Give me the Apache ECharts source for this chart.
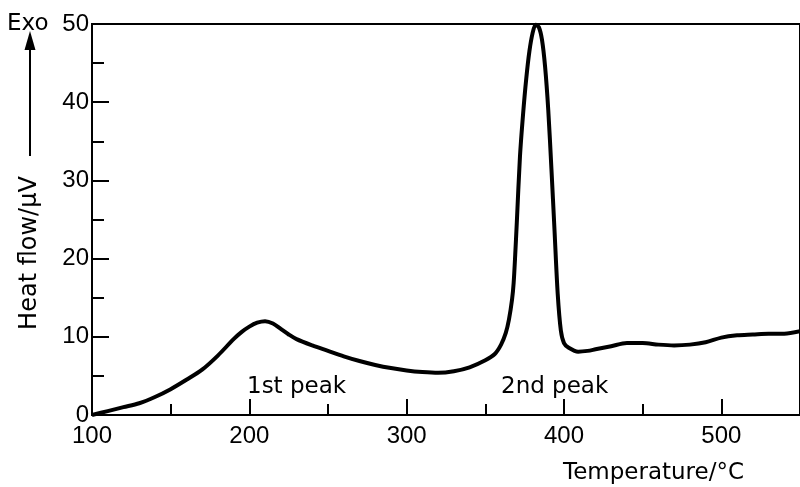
<!DOCTYPE html>
<html>
<head>
<meta charset="utf-8">
<script src="https://cdn.jsdelivr.net/npm/echarts@6/dist/echarts.min.js"></script>
<style>
  html, body { margin: 0; padding: 0; background: #fff; }
  #chart { width: 800px; height: 487px; }
</style>
</head>
<body>
<div id="chart"></div>
<script>
// DSC trace: temperature (°C) and heat flow (µV)
const temps = [100, 110, 120, 130, 140, 150, 160, 170, 180, 190, 195, 200, 205, 210, 215, 220, 225, 230, 240, 250,
	260, 270, 280, 290, 300, 310, 320, 330, 340, 350, 356, 360, 363, 365, 367, 368, 369, 370, 372, 374, 376,
	378, 380, 382, 384, 386, 388, 390, 392, 394, 396, 398, 400, 403, 409, 415, 420, 430, 440, 450, 460,
	470, 480, 490, 500, 510, 520, 530, 540, 550];
const heatFlow = [0, 0.5, 1.0, 1.5, 2.3, 3.3, 4.5, 5.8, 7.6, 9.7, 10.6, 11.3, 11.8, 12.0, 11.7, 11.0, 10.3, 9.7, 8.9, 8.2,
	7.5, 6.9, 6.4, 6.0, 5.7, 5.5, 5.4, 5.6, 6.1, 7.0, 7.8, 9.0, 10.5, 12.2, 14.8, 16.9, 20.5, 24.6, 33, 38.5, 43,
	46.5, 48.8, 49.9, 49.6, 48, 44.5, 39, 31.5, 23.5, 15.5, 10.8, 9.2, 8.6, 8.1, 8.2, 8.4, 8.8, 9.2, 9.2, 9.0,
	8.9, 9.0, 9.3, 9.9, 10.2, 10.3, 10.4, 10.4, 10.7];
const xTicks = [100, 200, 300, 400, 500];
const yTicks = [0, 10, 20, 30, 40, 50];
const peakLabels = ['1st peak', '2nd peak'];

const numFont = 'Liberation Sans';
const font = 'DejaVu Sans';
const seriesData = temps.map((t, i) => [t, heatFlow[i]]);

const chart = echarts.init(document.getElementById('chart'), null, { renderer: 'canvas' });

chart.setOption({
	backgroundColor: '#fff',
	animation: false,
	grid: {
		left: 92, right: -2, top: 24, bottom: 72,
		show: true, borderColor: '#000', borderWidth: 2, backgroundColor: 'transparent'
	},
	xAxis: {
		type: 'value',
		min: xTicks[0], max: 550, interval: 100,
		axisLine: { lineStyle: { color: '#000', width: 2 } },
		axisTick: { inside: true, length: 16, lineStyle: { color: '#000', width: 2 } },
		minorTick: { show: true, splitNumber: 2, length: 11, lineStyle: { color: '#000', width: 2 } },
		splitLine: { show: false },
		axisLabel: {
			color: '#000', fontFamily: numFont, fontSize: 24, margin: 9, showMaxLabel: false
		}
	},
	yAxis: {
		type: 'value',
		min: yTicks[0], max: yTicks[yTicks.length - 1], interval: 10,
		axisLine: { lineStyle: { color: '#000', width: 2 } },
		axisTick: { inside: true, length: 17, lineStyle: { color: '#000', width: 2 } },
		minorTick: { show: true, splitNumber: 2, length: 12, lineStyle: { color: '#000', width: 2 } },
		splitLine: { show: false },
		axisLabel: { color: '#000', fontFamily: numFont, fontSize: 24, margin: 3 }
	},
	series: [{
		type: 'line',
		data: seriesData,
		smooth: 0.3,
		showSymbol: false,
		lineStyle: { color: '#000', width: 4 },
		clip: true
	}],
	graphic: [
		// Exo label and arrow
		{ type: 'text', left: 7, top: 13, style: { text: 'Exo', font: '23px "' + font + '"', fill: '#000' } },
		{ type: 'line', shape: { x1: 30, y1: 46, x2: 30, y2: 156 }, style: { stroke: '#000', lineWidth: 2 } },
		{ type: 'polygon', shape: { points: [[30, 31], [24.5, 50], [35.5, 50]] }, style: { fill: '#000' } },
		{
			type: 'text', x: 30, y: 253, rotation: Math.PI / 2,
			style: { text: 'Heat flow/μV', font: '24px "' + font + '"', fill: '#000', align: 'center', verticalAlign: 'middle' }
		},
		// peak labels
		{ type: 'text', left: 247, top: 376, style: { text: peakLabels[0], font: '23px "' + font + '"', fill: '#000' } },
		{ type: 'text', left: 501, top: 376, style: { text: peakLabels[1], font: '23px "' + font + '"', fill: '#000' } },
		// axis title
		{ type: 'text', left: 563, top: 462, style: { text: 'Temperature/°C', font: '23px "' + font + '"', fill: '#000' } }
	]
});
</script>
</body>
</html>
